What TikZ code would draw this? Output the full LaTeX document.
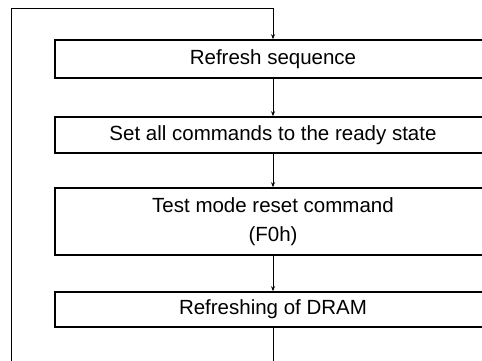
\documentclass[tikz,border=0pt]{standalone}
\usepackage{fontspec}
\setmainfont{Liberation Sans}
\usetikzlibrary{arrows.meta}
\tikzstyle{stepbox} = [draw, line width=1.6pt, minimum width=436pt, inner sep=0pt, align=center, font=\fontsize{20.5}{29}\selectfont]
\tikzstyle{arrow} = [line width=1pt,-{Stealth[length=5pt,width=4pt]}]

\begin{document}
\begin{tikzpicture}[x=1pt,y=-1pt]
\useasboundingbox (0,0) rectangle (482,360);
\clip (0,0) rectangle (482,360);

\node[stepbox, minimum height=38pt] (refresh) at (273,59) {Refresh sequence};
\node[stepbox, minimum height=36pt] (ready) at (273,135) {Set all commands to the ready state};
\node[stepbox, minimum height=67pt] (reset) at (273,221.5) {Test mode reset command\\(F0h)};
\node[stepbox, minimum height=35pt] (dram) at (273,309.5) {Refreshing of DRAM};

\coordinate (loopbot) at (11,375);
\coordinate (looptop) at (11,8);

\draw[arrow] (refresh) -- (ready);
\draw[arrow] (ready) -- (reset);
\draw[arrow] (reset) -- (dram);
\draw[arrow] (dram.south) |- (loopbot) -- (looptop) -| (refresh.north);

\end{tikzpicture}
\end{document}
